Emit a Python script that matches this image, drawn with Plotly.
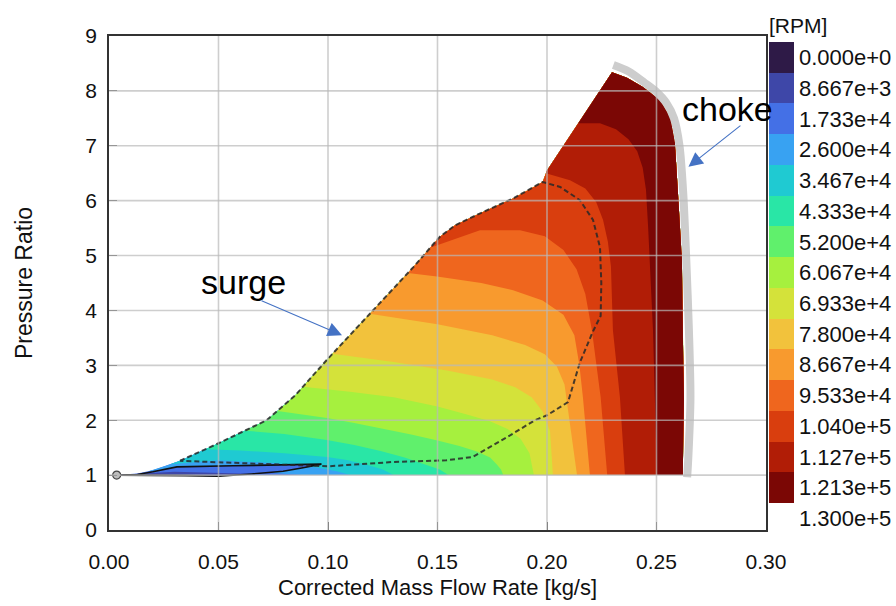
import plotly.graph_objects as go

# ---------------- data ----------------
levels = [0, 8667, 17333, 26000, 34667, 43333, 52000, 60667, 69333, 78000,
          86667, 95333, 104000, 112667, 121333, 130000]
level_labels = ["0.000e+0", "8.667e+3", "1.733e+4", "2.600e+4", "3.467e+4",
                "4.333e+4", "5.200e+4", "6.067e+4", "6.933e+4", "7.800e+4",
                "8.667e+4", "9.533e+4", "1.040e+5", "1.127e+5", "1.213e+5",
                "1.300e+5"]
band_colors = ["#2e1a47", "#3e47a8", "#4470e6", "#38a2f2", "#1fcad2",
               "#29e6a6", "#60f06c", "#a6f03e", "#d4e23a", "#f2c23c",
               "#f89a2e", "#ef661e", "#d93e0e", "#b11d06", "#7b0705"]

# operating envelope: surge side (left / top), from start to top corner
surge_x = [0.003, 0.013, 0.02, 0.026, 0.0324, 0.05, 0.072, 0.085, 0.0995, 0.1205,
           0.139, 0.151, 0.158, 0.169, 0.185, 0.198, 0.2, 0.206, 0.215, 0.2297]
surge_y = [1.0, 1.03, 1.09, 1.17, 1.26, 1.58, 2.0, 2.45, 3.1, 4.0,
           4.79, 5.34, 5.55, 5.76, 6.05, 6.34, 6.55, 6.92, 7.45, 8.34]
# choke side of the filled region (top corner down to PR = 1)
right_x = [0.2297, 0.2365, 0.2438, 0.2516, 0.2562, 0.2584, 0.2598, 0.2616, 0.262, 0.2625, 0.262]
right_y = [8.34, 8.24, 8.07, 7.83, 7.52, 7.05, 6.14, 4.92, 3.64, 2.4, 1.0]
# grey choke line
choke_x = [0.2303, 0.2375, 0.2445, 0.25, 0.2545, 0.258, 0.2605, 0.2622, 0.2636, 0.2648, 0.2655, 0.2645, 0.264]
choke_y = [8.47, 8.35, 8.15, 7.98, 7.78, 7.5, 7.0, 6.14, 4.92, 3.64, 2.4, 1.3, 0.96]

# iso-speed boundaries (RPM level: from surge line down to PR = 1)
iso_26000_x = [0.018, 0.035, 0.06, 0.08, 0.088]
iso_26000_y = [1.07, 1.12, 1.08, 1.03, 1.0]
iso_34667_x = [0.028, 0.05, 0.075, 0.095, 0.104, 0.11]
iso_34667_y = [1.2, 1.27, 1.22, 1.14, 1.07, 1.0]
iso_43333_x = [0.044, 0.06, 0.08, 0.0995, 0.108, 0.117, 0.125, 0.13]
iso_43333_y = [1.47, 1.45, 1.4, 1.33, 1.28, 1.2, 1.1, 1.0]
iso_52000_x = [0.062, 0.08, 0.0995, 0.112, 0.124, 0.135, 0.144, 0.151, 0.155]
iso_52000_y = [1.81, 1.75, 1.64, 1.55, 1.44, 1.32, 1.2, 1.1, 1.0]
iso_60667_x = [0.077, 0.09, 0.0995, 0.112, 0.125, 0.138, 0.15, 0.16, 0.168, 0.174, 0.177, 0.179, 0.18]
iso_60667_y = [2.17, 2.1, 2.04, 1.95, 1.85, 1.74, 1.63, 1.53, 1.43, 1.32, 1.2, 1.1, 1.0]
iso_69333_x = [0.0886, 0.11, 0.13, 0.15, 0.163, 0.174, 0.182, 0.188, 0.192, 0.194]
iso_69333_y = [2.61, 2.52, 2.42, 2.25, 2.11, 1.98, 1.84, 1.66, 1.4, 1.0]
iso_78000_x = [0.102, 0.13, 0.155, 0.175, 0.1855, 0.193, 0.198, 0.2014, 0.2027]
iso_78000_y = [3.21, 3.06, 2.9, 2.74, 2.6, 2.42, 2.16, 1.8, 1.0]
iso_86667_x = [0.119, 0.15, 0.175, 0.19, 0.199, 0.2045, 0.208, 0.2105, 0.2137]
iso_86667_y = [3.94, 3.75, 3.55, 3.37, 3.2, 2.98, 2.65, 1.9, 1.0]
iso_95333_x = [0.1365, 0.1498, 0.17, 0.1845, 0.198, 0.2075, 0.2125, 0.2148, 0.2164, 0.2196]
iso_95333_y = [4.68, 4.62, 4.5, 4.37, 4.18, 3.92, 3.55, 3.0, 2.42, 1.0]
iso_104000_x = [0.1466, 0.1694, 0.1877, 0.199, 0.2075, 0.2135, 0.2175, 0.2205, 0.2245, 0.2275]
iso_104000_y = [5.14, 5.46, 5.46, 5.35, 5.1, 4.75, 4.3, 3.64, 2.42, 1.0]
iso_112667_x = [0.1995, 0.2105, 0.2175, 0.2225, 0.2256, 0.2278, 0.2292, 0.2301, 0.2333, 0.2356]
iso_112667_y = [6.5, 6.37, 6.22, 5.97, 5.65, 5.25, 4.8, 3.64, 2.42, 1.0]
iso_121333_x = [0.2143, 0.2242, 0.2315, 0.2372, 0.2412, 0.2437, 0.2452, 0.2462, 0.2484, 0.2493, 0.2502]
iso_121333_y = [7.41, 7.41, 7.3, 7.12, 6.9, 6.6, 6.2, 5.5, 3.64, 2.42, 1.0]

# low-speed lens (solid outline) and its darker core
lens_x = [0.004, 0.013, 0.02, 0.031, 0.0566, 0.08, 0.097, 0.088, 0.0795, 0.065, 0.05, 0.035, 0.02, 0.004]
lens_y = [1.0, 1.01, 1.06, 1.15, 1.17, 1.18, 1.2, 1.13, 1.07, 1.02, 0.98, 0.99, 1.0, 1.0]
core_x = [0.005, 0.015, 0.03, 0.045, 0.06, 0.065, 0.05, 0.035, 0.02, 0.005]
core_y = [1.0, 1.03, 1.06, 1.05, 1.03, 1.02, 0.98, 0.99, 1.0, 1.0]

# dashed operating loop
loop_x = [0.0324, 0.05, 0.072, 0.085, 0.0995, 0.1205, 0.139, 0.151, 0.158, 0.169, 0.185, 0.198,
          0.206, 0.215, 0.221, 0.2242, 0.2248, 0.2245, 0.221, 0.215, 0.2096, 0.2, 0.1945,
          0.1817, 0.1694, 0.166, 0.154, 0.13, 0.1, 0.072, 0.0507, 0.0324]
loop_y = [1.26, 1.58, 2.0, 2.45, 3.1, 4.0, 4.79, 5.34, 5.55, 5.76, 6.05, 6.34,
          6.25, 6.01, 5.65, 5.15, 4.5, 3.9, 3.62, 3.05, 2.33, 2.09, 2.0,
          1.69, 1.4, 1.33, 1.27, 1.24, 1.16, 1.2, 1.24, 1.26]

start_x = [0.0035]
start_y = [1.0]

x_ticks = [0.0, 0.05, 0.10, 0.15, 0.20, 0.25, 0.30]
y_ticks = [0, 1, 2, 3, 4, 5, 6, 7, 8, 9]

iso_lines = [
    (iso_26000_x, iso_26000_y), (iso_34667_x, iso_34667_y), (iso_43333_x, iso_43333_y),
    (iso_52000_x, iso_52000_y), (iso_60667_x, iso_60667_y), (iso_69333_x, iso_69333_y),
    (iso_78000_x, iso_78000_y), (iso_86667_x, iso_86667_y), (iso_95333_x, iso_95333_y),
    (iso_104000_x, iso_104000_y), (iso_112667_x, iso_112667_y), (iso_121333_x, iso_121333_y),
]

FONT = "Liberation Sans, Arial, sans-serif"

fig = go.Figure()

# base envelope (lowest visible band)
env_x = surge_x + right_x[1:] + [surge_x[0]]
env_y = surge_y + right_y[1:] + [surge_y[0]]
fig.add_trace(go.Scatter(x=env_x, y=env_y, mode="lines", fill="toself",
                         fillcolor=band_colors[2], line=dict(width=0),
                         hoverinfo="skip", showlegend=False))

# region above each iso level, stacked
for k, (ix, iy) in enumerate(iso_lines):
    x0 = ix[0]
    sx = [x for x in surge_x[::-1] if x > x0]
    sy = [y for x, y in zip(surge_x[::-1], surge_y[::-1]) if x > x0]
    px = list(ix) + right_x[::-1] + sx + [ix[0]]
    py = list(iy) + right_y[::-1] + sy + [iy[0]]
    fig.add_trace(go.Scatter(x=px, y=py, mode="lines", fill="toself",
                             fillcolor=band_colors[k + 3], line=dict(width=0),
                             hoverinfo="skip", showlegend=False))

# lens
fig.add_trace(go.Scatter(x=lens_x, y=lens_y, mode="lines", fill="toself",
                         fillcolor=band_colors[2], line=dict(width=0),
                         hoverinfo="skip", showlegend=False))
fig.add_trace(go.Scatter(x=core_x, y=core_y, mode="lines", fill="toself",
                         fillcolor=band_colors[1], line=dict(width=0),
                         hoverinfo="skip", showlegend=False))
fig.add_trace(go.Scatter(x=lens_x, y=lens_y, mode="lines",
                         line=dict(color="#111111", width=1.6),
                         hoverinfo="skip", showlegend=False))

# dashed loop
fig.add_trace(go.Scatter(x=loop_x, y=loop_y, mode="lines",
                         line=dict(color="rgba(40,40,40,0.85)", width=2, dash="5px,3px"),
                         hoverinfo="skip", showlegend=False))

# choke line
fig.add_trace(go.Scatter(x=choke_x, y=choke_y, mode="lines",
                         line=dict(color="#cdcdcd", width=8, shape="spline", smoothing=0.8),
                         hoverinfo="skip", showlegend=False))

# start marker
fig.add_trace(go.Scatter(x=start_x, y=start_y, mode="markers",
                         marker=dict(size=8, color="#bdbdbd", line=dict(color="#444444", width=1.2)),
                         hoverinfo="skip", showlegend=False))

# colour bar (reversed: 0 at top)
cscale = []
n = len(band_colors)
for j in range(n):
    c = band_colors[n - 1 - j]
    cscale.append([j / n, c])
    cscale.append([(j + 1) / n, c])
fig.add_trace(go.Scatter(
    x=[None], y=[None], mode="markers", hoverinfo="skip", showlegend=False,
    marker=dict(color=[0], cmin=0, cmax=levels[-1], colorscale=cscale, showscale=True,
                colorbar=dict(
                    thickness=25, thicknessmode="pixels",
                    len=489, lenmode="pixels",
                    x=1.0046, xanchor="left", xpad=0,
                    y=1.0445, yanchor="top", ypad=0,
                    outlinewidth=0, ticks="",
                    tickvals=[levels[-1] - v for v in levels],
                    ticktext=level_labels,
                    ticklabelposition="outside bottom",
                    tickfont=dict(family=FONT, size=22, color="#111111"),
                    title=dict(text="[RPM]", side="top",
                               font=dict(family=FONT, size=21, color="#111111")),
                ))))

# grid lines drawn over the filled map
grid_col = "rgba(185,185,185,0.7)"
for xv in x_ticks[1:-1]:
    fig.add_shape(type="line", xref="x", yref="y", x0=xv, x1=xv, y0=y_ticks[0], y1=y_ticks[-1],
                  line=dict(color=grid_col, width=1.6), layer="above")
for yv in y_ticks[1:-1]:
    fig.add_shape(type="line", xref="x", yref="y", x0=x_ticks[0], x1=x_ticks[-1], y0=yv, y1=yv,
                  line=dict(color=grid_col, width=1.6), layer="above")

# annotations
fig.add_annotation(x=0.0612, y=4.52, xref="x", yref="y", text="surge", showarrow=False,
                   font=dict(family=FONT, size=34, color="#000000"))
fig.add_annotation(x=0.2822, y=7.67, xref="x", yref="y", text="choke", showarrow=False,
                   font=dict(family=FONT, size=34, color="#000000"))
fig.add_annotation(x=0.1064, y=3.55, xref="x", yref="y", ax=0.069, ay=4.19,
                   axref="x", ayref="y", text="", showarrow=True,
                   arrowhead=2, arrowsize=2.6, arrowwidth=1.1, arrowcolor="#4472c4", standoff=0)
fig.add_annotation(x=0.2646, y=6.62, xref="x", yref="y", ax=0.289, ay=7.39,
                   axref="x", ayref="y", text="", showarrow=True,
                   arrowhead=2, arrowsize=2.6, arrowwidth=1.1, arrowcolor="#4472c4", standoff=0)
# x axis title
fig.add_annotation(x=0.5, y=-0.1154, xref="paper", yref="paper", xanchor="center", yanchor="middle",
                   text="Corrected Mass Flow Rate [kg/s]", showarrow=False,
                   font=dict(family=FONT, size=22, color="#111111"))

axis_common = dict(showgrid=False, zeroline=False, showline=True, linecolor="#333333",
                   linewidth=1.5, mirror=True, ticks="inside", ticklen=8,
                   tickcolor="#444444", tickwidth=1.2, automargin=False,
                   tickfont=dict(family=FONT, size=21, color="#111111"))

fig.update_layout(
    width=896, height=606,
    margin=dict(l=109, r=130, t=36, b=76, autoexpand=False),
    paper_bgcolor="white", plot_bgcolor="white",
    font=dict(family=FONT),
    xaxis=dict(range=[x_ticks[0], x_ticks[-1]], tickvals=x_ticks, tickformat=".2f",
               ticklabelstandoff=12, **axis_common),
    yaxis=dict(range=[y_ticks[0], y_ticks[-1]], tickvals=y_ticks,
               ticklabelstandoff=6,
               title=dict(text="Pressure Ratio", standoff=46,
                          font=dict(family=FONT, size=23, color="#111111")),
               **axis_common),
)

fig.write_html("out.html")
